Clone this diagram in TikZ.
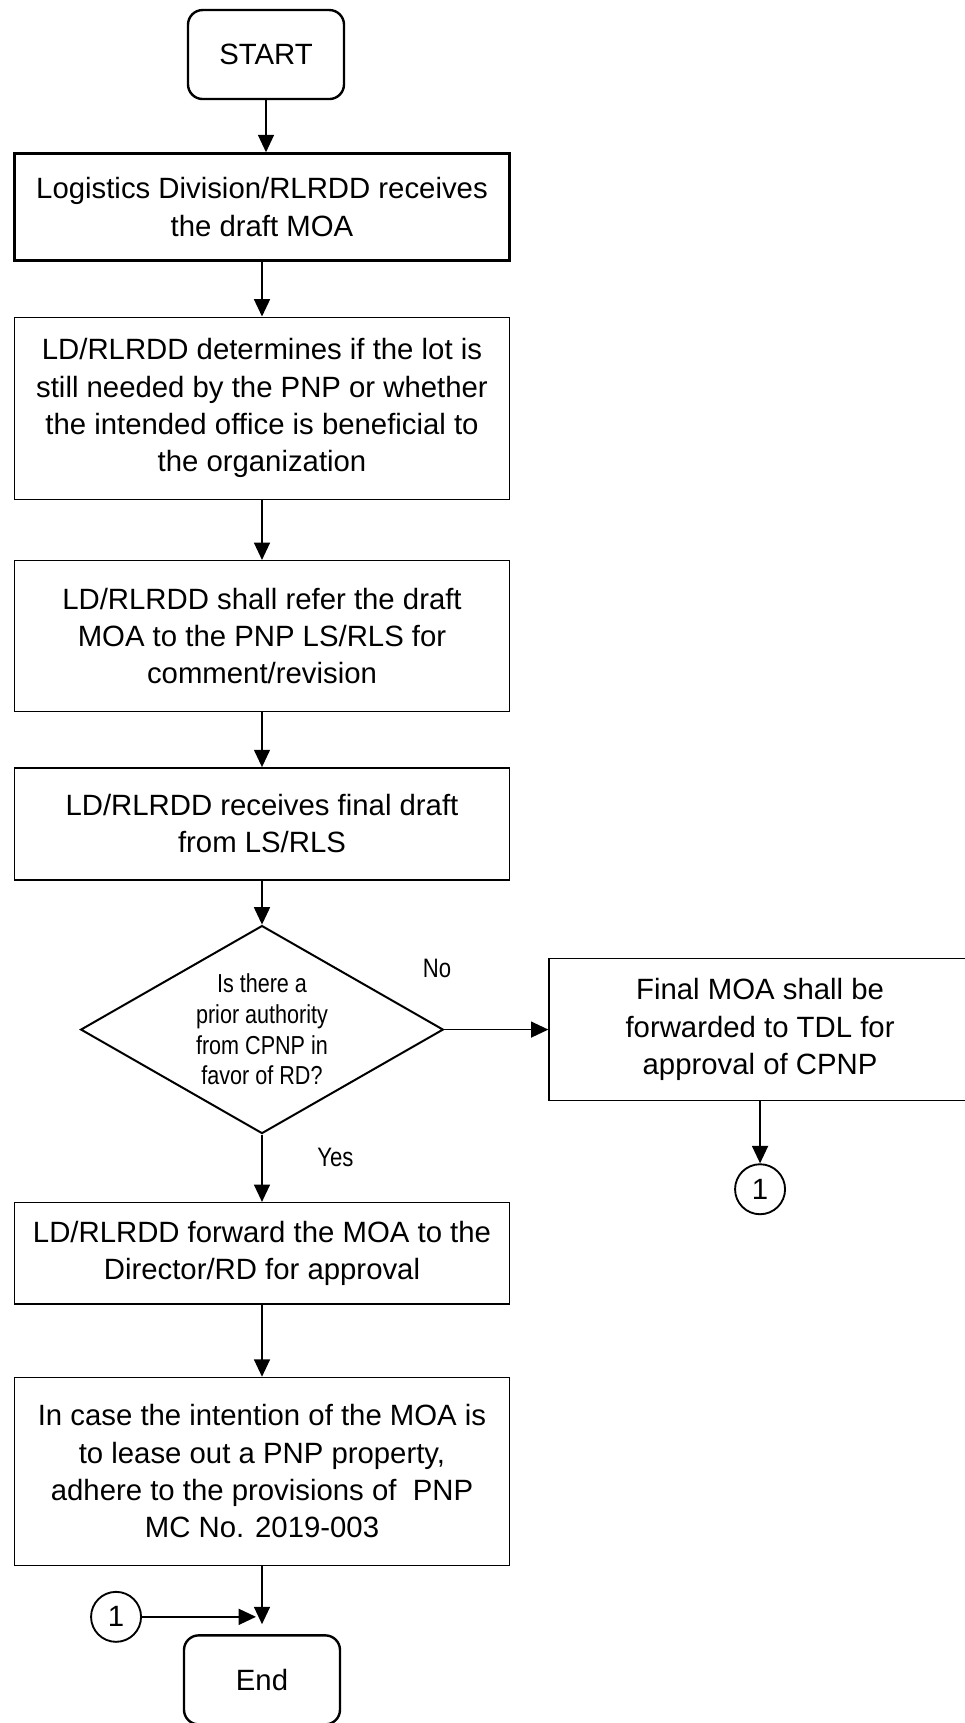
\documentclass[tikz,border=0pt]{standalone}
\usepackage{fontspec}
\setmainfont{Liberation Sans}
\newfontfamily\narrowfont[FakeStretch=0.83]{Liberation Sans}
\usetikzlibrary{positioning,shapes.geometric,arrows.meta}
\tikzset{
  module/.style={align=center, font=\fontsize{22}{28}\selectfont, inner sep=0pt},
  terminal module/.style={module, draw, line width=1.8pt, rounded corners=11pt, minimum width=117pt, minimum height=66.75pt},
  process module/.style={module, draw, line width=1.1pt, minimum width=371.25pt},
  decision module/.style={diamond, draw, line width=1.5pt, align=center, font=\narrowfont\fontsize{19.5}{23}\selectfont, shape aspect=1.8, inner sep=0pt, minimum width=272pt, minimum height=156pt},
  connector module/.style={circle, draw, line width=1.4pt, minimum size=37.5pt, inner sep=0pt, font=\fontsize{22}{28}\selectfont},
  answer label/.style={font=\narrowfont\fontsize{20}{24}\selectfont, inner sep=0pt},
  flow/.style={->, line width=1.1pt},
  >={Triangle[length=13pt,width=12pt]},
}

\begin{document}
\begin{tikzpicture}
\useasboundingbox (0,0) rectangle (723pt,-1292.25pt);
% the nodes
\node [terminal module] (bbA) at (199.5pt,-40.9pt) {START};
\node [process module, line width=2.2pt, minimum height=80pt, below=39pt of bbA, xshift=-3pt] (bbB) {Logistics Division/RLRDD receives\\the draft MOA};
\node [process module, minimum height=136.5pt, below=41pt of bbB] (bbC) {LD/RLRDD determines if the lot is\\still needed by the PNP or whether\\the intended office is beneficial to\\the organization};
\node [process module, minimum height=113pt, below=45pt of bbC] (bbD) {LD/RLRDD shall refer the draft\\MOA to the PNP LS/RLS for\\comment/revision};
\node [process module, minimum height=84pt, below=41.25pt of bbD] (bbE) {LD/RLRDD receives final draft\\from LS/RLS};
\node [decision module, below=33pt of bbE] (bbF) {Is there a\\prior authority\\from CPNP in\\favor of RD?};
\node [process module, minimum width=316.5pt, minimum height=106.5pt, right=78pt of bbF] (bbG) {Final MOA shall be\\forwarded to TDL for\\approval of CPNP};
\node [connector module, below=46.5pt of bbG] (bbH) {1};
\node [process module, minimum height=76pt, below=50.5pt of bbF] (bbI) {LD/RLRDD forward the MOA to the\\Director/RD for approval};
\node [process module, minimum height=141pt, below=54pt of bbI] (bbJ) {In case the intention of the MOA is\\to lease out a PNP property,\\adhere to the provisions of\ \ PNP\\MC No. 2019-003};
\node [terminal module, below=51pt of bbJ] (bbK) {End};
\coordinate (bbJoin) at ([yshift=13pt]bbK.north);
\node [connector module, left=90pt of bbJoin] (bbL) {1};
% the labels
\node [answer label] (lblNo) at ([xshift=-5.5pt,yshift=46pt]bbF.east) {No};
\node [answer label] (lblYes) at ([xshift=55pt,yshift=-17pt]bbF.south) {Yes};
%drawings of vectors
\draw[flow] (bbA.south) -- (bbA.south |- bbB.north);
\draw[flow] (bbB.south) -- (bbC.north);
\draw[flow] (bbC.south) -- (bbD.north);
\draw[flow] (bbD.south) -- (bbE.north);
\draw[flow] (bbE.south) -- (bbF.north);

\draw[flow] (bbF.east) -- (bbG.west);
\draw[flow] (bbG.south) -- (bbH.north);
\draw[flow] (bbF.south) -- (bbI.north);

\draw[flow] (bbI.south) -- (bbJ.north);
\draw[flow, shorten >=7.5pt] (bbJ.south) -- (bbK.north);
\draw[flow, shorten >=4.5pt] (bbL.east) -- (bbJoin);

\end{tikzpicture}
\end{document}
